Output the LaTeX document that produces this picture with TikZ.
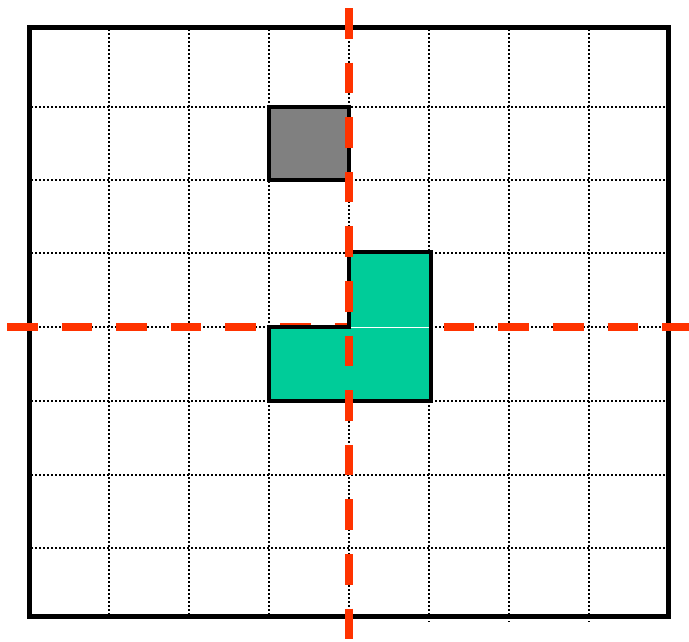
\documentclass[tikz,border=0pt]{standalone}
\definecolor{axisred}{HTML}{FF3300}
\definecolor{shapegreen}{HTML}{00CC99}
\definecolor{shapegray}{HTML}{808080}
\tikzset{
  gridline/.style={black, line width=2pt, dash pattern=on 2pt off 2pt},
  border/.style={black, line width=5pt},
  cellshape/.style={draw=black, line width=3.5pt, line join=miter},
  axisline/.style={axisred, line width=8pt, dash pattern=on 30.5pt off 24.1pt, line cap=butt}
}
\begin{document}
\begin{tikzpicture}[x=1pt, y=-1pt]
\useasboundingbox (0,0) rectangle (689,641);
% dotted grid
\foreach \x in {109,189,269,349} \draw[gridline] (\x,29) -- (\x,616);
\foreach \x in {429,509,589} \draw[gridline] (\x,29) -- (\x,622);
\foreach \y in {107,180,253,327,401,475,548} \draw[gridline] (31,\y) -- (667,\y);
% outer border
\draw[border] (29,27.5) rectangle (668,616.5);
% gray square
\draw[cellshape, fill=shapegray] (269,107) rectangle (349,180);
% horizontal axis (under the green shape)
\draw[axisline] (7,327) -- (689,327);
% green L shape
\draw[cellshape, fill=shapegreen] (349,252) -- (431,252) -- (431,401) -- (269,401) -- (269,327) -- (349,327) -- cycle;
\draw[white, line width=0.8pt] (351,327) -- (429,327);
% vertical axis (on top)
\draw[axisline] (349,8) -- (349,641);
\end{tikzpicture}
\end{document}
